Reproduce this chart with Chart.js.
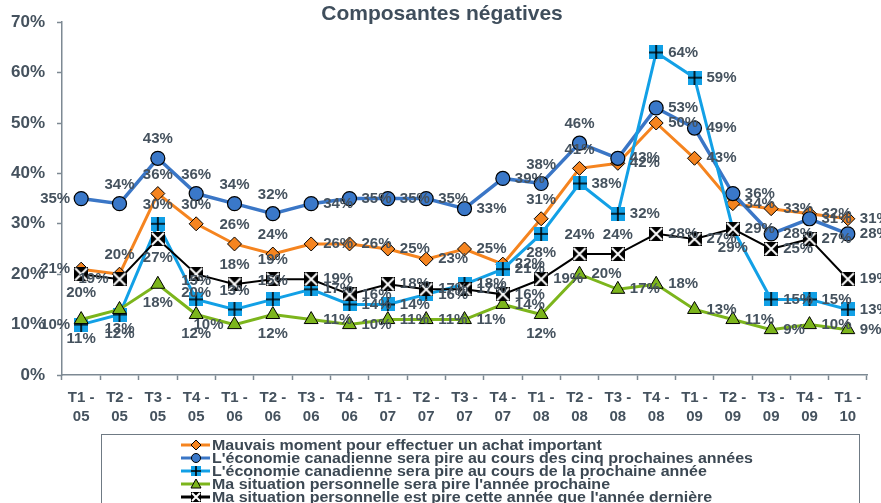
<!DOCTYPE html>
<html>
<head>
<meta charset="utf-8">
<script src="https://cdn.jsdelivr.net/npm/chart.js@4.4.0/dist/chart.umd.min.js"></script>
<style>
  html, body { margin: 0; padding: 0; background: #fff; }
  #c { display: block; }
</style>
</head>
<body>
<canvas id="c" width="881" height="503"></canvas>
<script>
// categories (quarter - year)
const quarters = ["T1","T2","T3","T4","T1","T2","T3","T4","T1","T2","T3","T4","T1","T2","T3","T4","T1","T2","T3","T4","T1"];
const years = ["05","05","05","05","06","06","06","06","07","07","07","07","08","08","08","08","09","09","09","09","10"];

// series values, in %
const mauvaisMoment = [21,20,36,30,26,24,26,26,25,23,25,22,31,41,42,50,43,34,33,32,31];
const ecoCinqAns = [35,34,43,36,34,32,34,35,35,35,33,39,38,46,43,53,49,36,28,31,28];
const ecoProchaineAnnee = [10,12,30,15,13,15,17,14,14,16,18,21,28,38,32,64,59,29,15,15,13];
const situationPire = [11,13,18,12,10,12,11,10,11,11,11,14,12,20,17,18,13,11,9,10,9];
const situationCetteAnnee = [20,19,27,20,18,19,19,16,18,17,17,16,19,24,24,28,27,29,25,27,19];

const seriesNames = [
  "Mauvais moment pour effectuer un achat important",
  "L'économie canadienne sera pire au cours des cinq prochaines années",
  "L'économie canadienne sera pire au cours de la prochaine année",
  "Ma situation personnelle sera pire l'année prochaine",
  "Ma situation personnelle est pire cette année que l'année dernière"
];

const yTicks = [0,10,20,30,40,50,60,70];

const labels = quarters.map((q, i) => [q + " -", years[i]]);

const textColor = "#45525e";
const axisColor = "#7d8993";
const FONT = "'Liberation Sans', Arial, sans-serif";

// marker images
function squareMarker(fill, lineColor, kind, s) {
  const cv = document.createElement("canvas");
  cv.width = s; cv.height = s;
  const g = cv.getContext("2d");
  g.fillStyle = fill;
  g.fillRect(0, 0, s, s);
  g.strokeStyle = lineColor;
  g.lineWidth = kind === "x" ? 2 : 1.6;
  g.beginPath();
  if (kind === "x") {
    g.moveTo(1, 1); g.lineTo(s - 1, s - 1);
    g.moveTo(s - 1, 1); g.lineTo(1, s - 1);
  } else {
    g.moveTo(s / 2, 0); g.lineTo(s / 2, s);
    g.moveTo(0, s / 2); g.lineTo(s, s / 2);
  }
  g.stroke();
  return cv;
}
const plusMark = squareMarker("#12a0e6", "#000", "+", 14);
const xMark = squareMarker("#000", "#fff", "x", 14);
const plusMarkSmall = squareMarker("#12a0e6", "#000", "+", 10);
const xMarkSmall = squareMarker("#000", "#fff", "x", 10);

// where each value label sits: a above, b below, l left, r right
const labelPlacement = [
  "laaaaarrrrrraarrrrrrr",
  "laaaaarrrrrraarrrrrrr",
  "lbaaaarrrrrrbrrrrrrrr",
  "bbbblbrrrrrrbrrrrrrrr",
  "blbbaarrrrrrraarrbrrr"
];

const dataLabels = {
  id: "dataLabels",
  afterDatasetsDraw(chart) {
    const ctx = chart.ctx;
    ctx.save();
    ctx.font = "bold 15px " + FONT;
    ctx.fillStyle = textColor;
    chart.data.datasets.forEach((ds, di) => {
      const meta = chart.getDatasetMeta(di);
      meta.data.forEach((pt, i) => {
        const p = labelPlacement[di][i];
        const txt = ds.data[i] + "%";
        let x = pt.x, y = pt.y;
        ctx.textBaseline = "middle";
        if (p === "r") { ctx.textAlign = "left"; x += 12; }
        else if (p === "l") { ctx.textAlign = "right"; x -= 11; }
        else if (p === "a") { ctx.textAlign = "center"; y -= 19; }
        else { ctx.textAlign = "center"; y += 19; }
        ctx.fillText(txt, x, y);
      });
    });
    ctx.restore();
  }
};

const titleAndLegend = {
  id: "titleAndLegend",
  afterDraw(chart) {
    const ctx = chart.ctx;
    ctx.save();
    // title
    ctx.font = "bold 21px " + FONT;
    ctx.fillStyle = "#3f4e5c";
    ctx.textAlign = "center";
    ctx.textBaseline = "middle";
    ctx.fillText("Composantes négatives", 442, 14);

    // legend box
    ctx.strokeStyle = "#6f7a84";
    ctx.lineWidth = 1;
    ctx.strokeRect(101.5, 434.5, 758, 80);

    const rowY0 = 445, rowStep = 13;
    ctx.font = "bold 14px " + FONT;
    let widest = 0;
    seriesNames.forEach(n => { widest = Math.max(widest, ctx.measureText(n).width); });
    const sx = 541 / widest;

    chart.data.datasets.forEach((ds, i) => {
      const y = rowY0 + i * rowStep;
      ctx.strokeStyle = ds.borderColor;
      ctx.lineWidth = 3;
      ctx.beginPath();
      ctx.moveTo(181, y); ctx.lineTo(210, y);
      ctx.stroke();
      const cx = 196;
      ctx.lineWidth = 1;
      ctx.strokeStyle = "#000";
      ctx.fillStyle = ds.pointBackgroundColor;
      if (i === 0) {
        ctx.beginPath();
        ctx.moveTo(cx, y - 5); ctx.lineTo(cx + 5, y); ctx.lineTo(cx, y + 5); ctx.lineTo(cx - 5, y);
        ctx.closePath(); ctx.fill(); ctx.stroke();
      } else if (i === 1) {
        ctx.beginPath(); ctx.arc(cx, y, 4.5, 0, Math.PI * 2); ctx.fill(); ctx.stroke();
      } else if (i === 2) {
        ctx.drawImage(plusMarkSmall, cx - 5, y - 5);
      } else if (i === 3) {
        ctx.beginPath();
        ctx.moveTo(cx, y - 5); ctx.lineTo(cx + 5, y + 4); ctx.lineTo(cx - 5, y + 4);
        ctx.closePath(); ctx.fill(); ctx.stroke();
      } else {
        ctx.drawImage(xMarkSmall, cx - 5, y - 5);
      }
      ctx.save();
      ctx.translate(212, y);
      ctx.scale(sx, 1);
      ctx.fillStyle = "#3c4853";
      ctx.textAlign = "left";
      ctx.textBaseline = "middle";
      ctx.fillText(seriesNames[i], 0, 1);
      ctx.restore();
    });
    ctx.restore();
  }
};

new Chart("c", {
  type: "line",
  data: {
    labels: labels,
    datasets: [
      {
        label: seriesNames[0], data: mauvaisMoment,
        borderColor: "#f5841f", borderWidth: 3,
        pointStyle: "rectRot", pointRadius: 7, pointHoverRadius: 7,
        pointBackgroundColor: "#f5841f", pointBorderColor: "#000", pointBorderWidth: 1,
        order: 5
      },
      {
        label: seriesNames[1], data: ecoCinqAns,
        borderColor: "#3a76c6", borderWidth: 3.5,
        pointStyle: "circle", pointRadius: 7, pointHoverRadius: 7,
        pointBackgroundColor: "#3a78c9", pointBorderColor: "#000", pointBorderWidth: 1.2,
        order: 4
      },
      {
        label: seriesNames[2], data: ecoProchaineAnnee,
        borderColor: "#12a0e6", borderWidth: 3,
        pointStyle: plusMark, pointRadius: 7,
        pointBackgroundColor: "#12a0e6",
        order: 3
      },
      {
        label: seriesNames[3], data: situationPire,
        borderColor: "#7cb51c", borderWidth: 3,
        pointStyle: "triangle", pointRadius: 8, pointHoverRadius: 8,
        pointBackgroundColor: "#7cb51c", pointBorderColor: "#000", pointBorderWidth: 1,
        order: 2
      },
      {
        label: seriesNames[4], data: situationCetteAnnee,
        borderColor: "#000", borderWidth: 2,
        pointStyle: xMark, pointRadius: 7,
        pointBackgroundColor: "#000",
        order: 1
      }
    ]
  },
  options: {
    responsive: false,
    animation: false,
    devicePixelRatio: 1,
    clip: false,
    layout: { padding: { top: 18, right: 14, bottom: 78, left: 0 } },
    plugins: {
      legend: { display: false },
      title: { display: false },
      tooltip: { enabled: false }
    },
    elements: { line: { tension: 0 } },
    scales: {
      x: {
        offset: true,
        grid: { offset: true, drawOnChartArea: false, color: axisColor, tickLength: 5, tickWidth: 1.5 },
        border: { color: axisColor, width: 1.5 },
        ticks: {
          autoSkip: false, maxRotation: 0, padding: 8,
          color: textColor,
          font: { family: FONT, size: 15, weight: "bold", lineHeight: 1.27 }
        },
        afterFit(scale) { scale.height = 50; }
      },
      y: {
        min: 0, max: 70,
        afterBuildTicks(scale) { scale.ticks = yTicks.map(v => ({ value: v })); },
        grid: { drawOnChartArea: false, color: axisColor, tickLength: 5, tickWidth: 1.5 },
        border: { color: axisColor, width: 1.5 },
        ticks: {
          padding: 12,
          color: textColor,
          font: { family: FONT, size: 17, weight: "bold" },
          callback: v => v + "%"
        },
        afterFit(scale) { scale.width = 62; }
      }
    }
  },
  plugins: [dataLabels, titleAndLegend]
});
</script>
</body>
</html>
